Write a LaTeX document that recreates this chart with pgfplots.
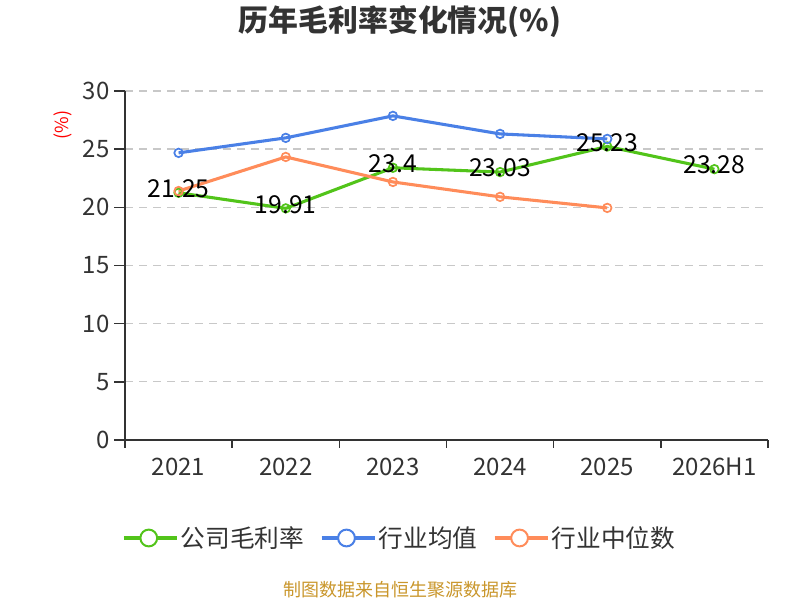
\documentclass[border=0pt]{standalone}
\usepackage{pgfplots}
\pgfplotsset{compat=1.18}
\usepackage{fontspec}
\setmainfont{Noto Sans CJK SC}
\definecolor{cgreen}{HTML}{52C41A}
\definecolor{cblue}{HTML}{4A80E6}
\definecolor{corange}{HTML}{FF8C5A}
\definecolor{ctext}{HTML}{333333}
\definecolor{cgrid}{HTML}{C8C8C8}
\definecolor{cfoot}{HTML}{C9962B}
\begin{document}
\begin{tikzpicture}[x=0.75pt,y=0.75pt]
\path (0,0) rectangle (800,600);
\node[font=\fontsize{22.4pt}{25pt}\selectfont\bfseries, text=ctext] at (400,578) {历年毛利率变化情况(\%)};
\node[font=\fontsize{13.5pt}{15pt}\selectfont, text=red, rotate=90] at (63,475) {(\%)};
\node[font=\fontsize{13.5pt}{15pt}\selectfont, text=cfoot] at (400,10) {制图数据来自恒生聚源数据库};
\begin{axis}[
  at={(93.75pt,120pt)}, anchor=south west,
  scale only axis, width=482.25pt, height=261.75pt,
  xmin=-0.5, xmax=5.5, ymin=0, ymax=30,
  axis x line=bottom, axis y line=left,
  axis line style={-, ctext, line width=1.1pt},
  tick align=outside, major tick length=8pt,
  tick style={ctext, line width=1.1pt},
  xtick={0,1,2,3,4,5},
  xticklabels={2021,2022,2023,2024,2025,2026H1},
  xtick style={draw=none},
  xticklabel style={yshift=-2pt},
  extra x ticks={-0.5,0.5,1.5,2.5,3.5,4.5,5.5},
  extra x tick labels={},
  extra x tick style={major tick length=6pt, xtick style={draw=ctext}},
  ytick={0,5,...,30},
  ymajorgrids, grid style={cgrid, line width=1pt, dash pattern=on 6pt off 4.5pt},
  ticklabel style={font=\fontsize{18pt}{20pt}\selectfont, text=ctext},
  /pgf/number format/assume math mode=true,
  legend style={at={(0.4277,-0.2808)}, anchor=center, draw=none, fill=none,
    legend columns=-1, font=\fontsize{18.5pt}{20pt}\selectfont, text=ctext,
    /tikz/every even column/.append style={column sep=9.75pt},
    inner sep=0pt},
  legend image code/.code={
    \path (0pt,0pt) -- (39.75pt,0pt);
    \draw[#1, mark=none, line width=1.5pt] (0pt,0pt) -- (37.5pt,0pt);
    \draw[#1, mark=none, line width=1.5pt, fill=white] (18.75pt,0pt) circle (6.3pt);
  },
  clip=false,
]
\addplot[cgreen, line width=2.3pt, mark=o, mark size=3.2pt,
  mark options={fill=white, line width=1.3pt},
  nodes near coords, point meta=explicit symbolic,
  every node near coord/.append style={anchor=center, yshift=3pt, text=black, font=\fontsize{18.5pt}{20pt}\selectfont}]
  coordinates {(0,21.25)[21.25] (1,19.91)[19.91] (2,23.4)[23.4] (3,23.03)[23.03] (4,25.23)[25.23] (5,23.28)[23.28]};
\addlegendentry{公司毛利率}
\addplot[cblue, line width=2.3pt, mark=o, mark size=3.2pt,
  mark options={fill=white, line width=1.3pt}]
  coordinates {(0,24.68) (1,25.97) (2,27.86) (3,26.31) (4,25.88)};
\addlegendentry{行业均值}
\addplot[corange, line width=2.3pt, mark=o, mark size=3.2pt,
  mark options={fill=white, line width=1.3pt}]
  coordinates {(0,21.4) (1,24.33) (2,22.18) (3,20.9) (4,19.95)};
\addlegendentry{行业中位数}
\end{axis}
\end{tikzpicture}
\end{document}
